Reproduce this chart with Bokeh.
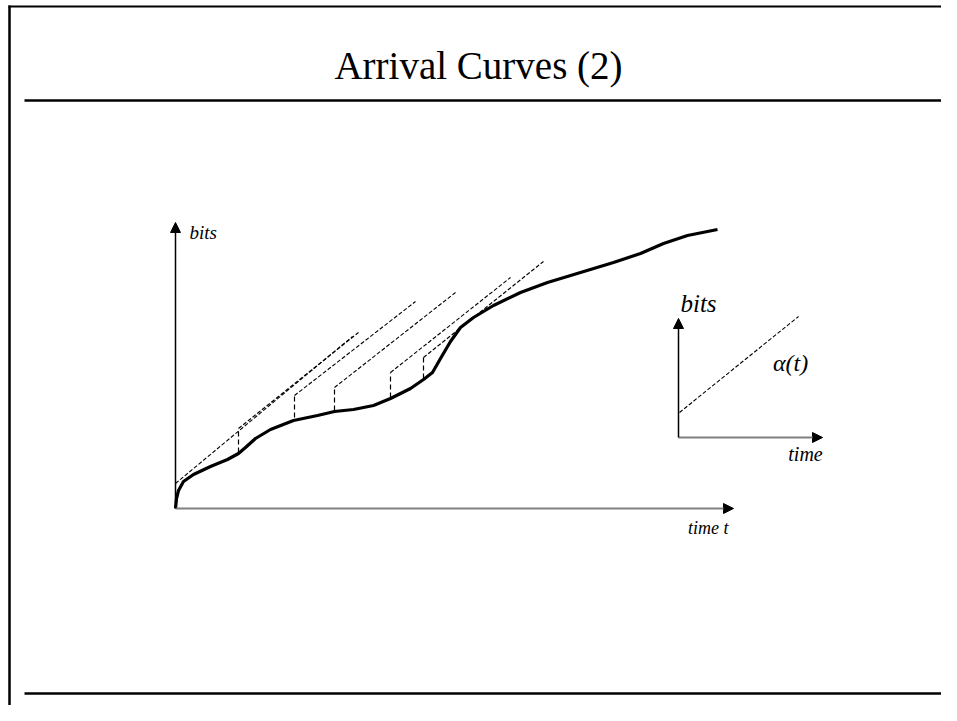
from bokeh.plotting import figure
from bokeh.models import Range1d, Arrow, NormalHead
from bokeh.core.properties import value
from bokeh.embed import file_html
from bokeh.resources import INLINE

# ---------------- data ----------------
title_text = "Arrival Curves (2)"

# cumulative arrival curve R(t) (main chart units)
curve_t = [0, 0.1, 0.3, 0.8, 1.8, 3.5, 5.2, 6.3, 7.0, 8.0, 9.5, 11.8, 14.2, 15.9,
           17.8, 19.8, 21.5, 23.5, 24.8, 25.7, 26.5, 27.5, 28.5, 29.8, 31.8, 34.5,
           37.2, 40.5, 43.8, 46.5, 48.8, 51.2, 54.2]
curve_bits = [0, 1.0, 1.8, 2.7, 3.4, 4.2, 4.9, 5.5, 6.1, 7.0, 7.9, 8.8, 9.3, 9.7,
              9.9, 10.3, 11.0, 12.0, 12.9, 13.6, 15.0, 16.7, 18.1, 19.1, 20.3, 21.6,
              22.6, 23.6, 24.6, 25.5, 26.5, 27.3, 27.9]

# shifted arrival-curve segments: start at (shift_t, shift_top), end at (end_t, end_bits)
shift_t = [0, 6.3, 11.9, 15.9, 21.5, 24.8]
shift_bits = [0, 5.6, 9.1, 9.8, 11.1, 13.0]
shift_top = [2.5, 8.0, 11.3, 12.1, 13.6, 15.1]
end_t = [17.7, 18.3, 24.0, 28.0, 33.5, 36.8]
end_bits = [17.2, 17.6, 20.7, 21.6, 23.1, 24.7]

# main axes extents
main_t_max = 55.8
main_bits_max = 28.6

# inset: alpha(t)
inset_alpha_t = [0.1, 12.0]
inset_alpha_bits = [2.5, 12.1]
inset_t_max = 14.4
inset_bits_max = 11.9

# ---------------- figure ----------------
W, H = 941, 705
p = figure(width=W, height=H, output_backend="svg", toolbar_location=None,
           x_range=Range1d(0, 941), y_range=Range1d(705, 0),
           x_axis_location=None, y_axis_location=None, min_border=0)
p.grid.visible = False
p.outline_line_color = None
p.background_fill_color = "white"
p.border_fill_color = "white"

p.extra_x_ranges = {"main": Range1d(-17.5, 76.6), "inset": Range1d(-67.8, 26.3)}
p.extra_y_ranges = {"main": Range1d(-19.7, 50.8), "inset": Range1d(-26.8, 43.7)}

serif = value("Liberation Serif")

# slide decorations (slide pixel space)
p.segment(x0=[9, 8], y0=[5, 6], x1=[9, 941], y1=[705, 6], line_color="black", line_width=[2.5, 2])
p.segment(x0=[24, 24], y0=[100, 693], x1=[943, 943], y1=[100, 693], line_color="black", line_width=2.5)
p.text(x=[478], y=[65], text=[title_text], text_font=serif, text_font_size="39px",
       text_align="center", text_baseline="middle", text_color="black")

# ---------------- main chart ----------------
M = dict(x_range_name="main", y_range_name="main")
p.add_layout(Arrow(end=NormalHead(size=10, fill_color="black", line_color="black"),
                   x_start=0, y_start=0, x_end=main_t_max, y_end=0,
                   line_color="#808080", line_width=2, **M))
p.add_layout(Arrow(end=NormalHead(size=10, fill_color="black", line_color="black"),
                   x_start=0, y_start=0, x_end=0, y_end=main_bits_max,
                   line_color="black", line_width=1.5, **M))

# dashed shifted arrival curves
p.segment(x0=shift_t, y0=shift_top, x1=end_t, y1=end_bits, line_color="black",
          line_width=1.1, line_dash="4 2", **M)
# vertical dashed bursts
p.segment(x0=shift_t[1:], y0=shift_bits[1:], x1=shift_t[1:], y1=shift_top[1:],
          line_color="black", line_width=1.2, line_dash="5 3", **M)
# arrival curve
p.line(curve_t, curve_bits, line_color="black", line_width=3.2, line_join="round", **M)

p.text(x=[1.4], y=[27.6], text=["bits"], text_font=serif, text_font_style="italic",
       text_font_size="19px", text_align="left", text_baseline="middle", **M)
p.text(x=[55.3], y=[-1.9], text=["time t"], text_font=serif, text_font_style="italic",
       text_font_size="18px", text_align="right", text_baseline="middle", **M)

# ---------------- inset ----------------
I = dict(x_range_name="inset", y_range_name="inset")
p.add_layout(Arrow(end=NormalHead(size=10, fill_color="black", line_color="black"),
                   x_start=0, y_start=0, x_end=inset_t_max, y_end=0,
                   line_color="#808080", line_width=2, **I))
p.add_layout(Arrow(end=NormalHead(size=10, fill_color="black", line_color="black"),
                   x_start=0, y_start=0, x_end=0, y_end=inset_bits_max,
                   line_color="black", line_width=1.5, **I))
p.line(inset_alpha_t, inset_alpha_bits, line_color="black", line_width=1.1, line_dash="4 2", **I)
p.text(x=[2.0], y=[13.4], text=["bits"], text_font=serif, text_font_style="italic",
       text_font_size="25px", text_align="center", text_baseline="middle", **I)
p.text(x=[12.7], y=[-1.6], text=["time"], text_font=serif, text_font_style="italic",
       text_font_size="20px", text_align="center", text_baseline="middle", **I)
p.text(x=[11.2], y=[7.5], text=["α(t)"], text_font=serif, text_font_style="italic",
       text_font_size="24px", text_align="center", text_baseline="middle", **I)

open("out.html", "w").write(file_html(p, INLINE))
